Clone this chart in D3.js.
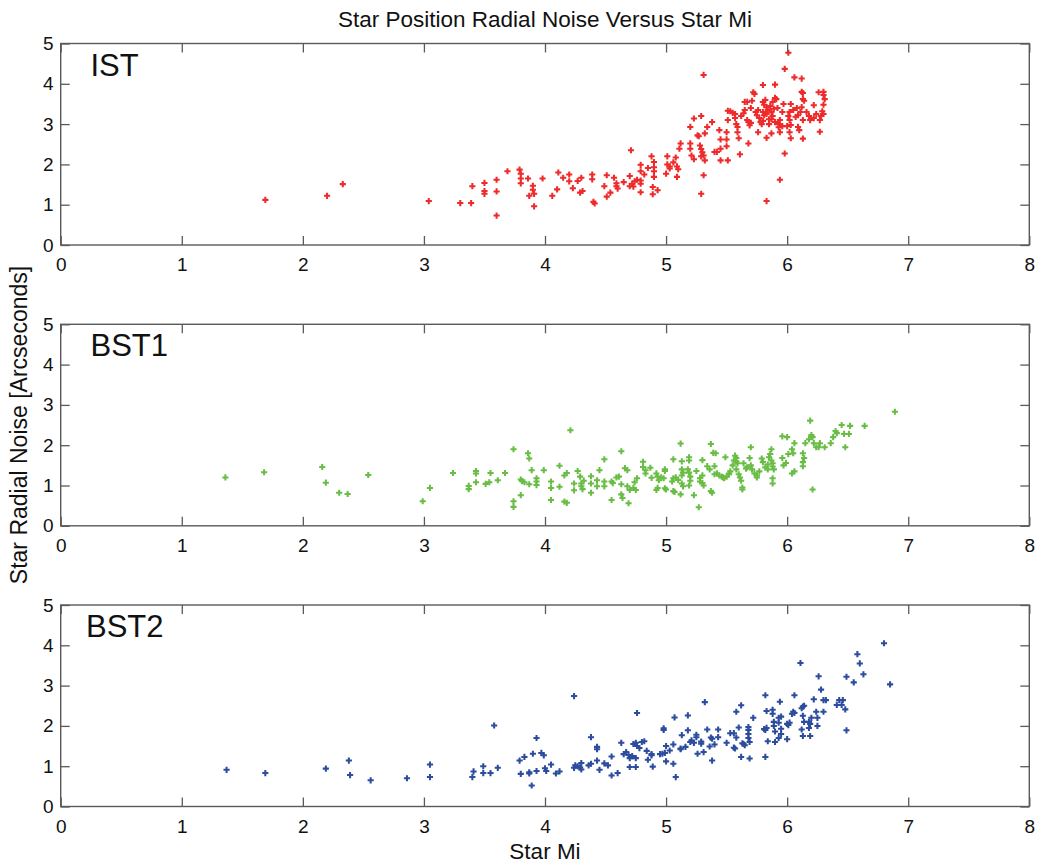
<!DOCTYPE html>
<html>
<head>
<meta charset="utf-8">
<script src="https://cdn.jsdelivr.net/npm/d3@7"></script>
<style>
  html, body { margin: 0; padding: 0; background: #fff; }
  svg { display: block; }
  text { font-family: "Liberation Sans", Arial, Helvetica, sans-serif; fill: #111; }
</style>
</head>
<body>
<svg id="chart" width="1039" height="865"></svg>
<script>
// Star magnitude (Mi) and radial noise [arcsec] for each tracker
const istMi = [1.69,2.20,2.33,3.04,3.30,3.39,3.40,3.50,3.50,3.50,3.60,3.60,3.60,3.69,3.79,3.80,3.80,3.80,3.86,3.90,3.90,3.91,3.87,3.91,3.98,4.06,4.11,4.10,4.15,4.20,4.20,4.23,4.27,4.30,4.29,4.31,4.39,4.39,4.40,4.41,4.51,4.49,4.51,4.54,4.57,4.59,4.59,4.60,4.65,4.70,4.70,4.72,4.74,4.76,4.73,4.71,4.79,4.79,4.79,4.79,4.79,4.82,4.85,4.88,4.90,4.90,4.90,4.90,4.89,4.89,4.93,5.00,5.01,5.01,5.03,5.03,5.06,5.08,5.09,5.10,5.09,5.11,5.12,5.20,5.20,5.20,5.21,5.23,5.23,5.26,5.27,5.28,5.29,5.30,5.31,5.29,5.29,5.31,5.32,5.34,5.31,5.29,5.32,5.38,5.40,5.42,5.44,5.45,5.45,5.45,5.51,5.51,5.50,5.50,5.50,5.51,5.53,5.55,5.57,5.57,5.58,5.59,5.59,5.60,5.61,5.65,5.67,5.65,5.67,5.68,5.69,5.70,5.68,5.72,5.73,5.71,5.75,5.77,5.78,5.79,5.80,5.76,5.80,5.80,5.82,5.81,5.83,5.80,5.81,5.83,5.85,5.85,5.83,5.83,5.87,5.87,5.89,5.88,5.90,5.91,5.88,5.87,5.90,5.93,5.94,5.90,5.93,5.96,6.00,5.94,5.98,5.94,5.98,6.01,6.02,6.01,6.03,6.02,6.03,6.02,6.03,6.06,6.12,6.10,6.09,6.13,6.07,6.09,6.11,6.13,6.12,6.13,6.14,6.12,6.13,6.18,6.19,6.22,6.27,6.27,6.26,6.30,6.30,6.31,6.30,6.29,6.30,6.28,5.62,5.64,5.74,5.76,5.86,5.92,5.96,6.05,6.08,6.16,6.24,6.22,5.84,5.70,5.97];
const istNoise = [1.12,1.22,1.51,1.09,1.04,1.04,1.46,1.54,1.34,1.27,1.62,1.33,0.73,1.83,1.87,1.77,1.65,1.53,1.65,1.47,1.37,1.27,1.22,0.96,1.65,1.22,1.80,1.38,1.67,1.75,1.58,1.41,1.59,1.67,1.30,1.34,1.75,1.63,1.07,1.03,1.73,1.46,1.20,1.30,1.67,1.53,1.46,1.40,1.56,1.71,1.46,1.52,1.58,1.62,1.45,2.35,1.99,1.83,1.52,1.60,1.31,1.75,1.91,2.20,2.06,1.93,1.83,1.69,1.44,1.26,1.36,1.77,2.20,2.00,1.95,1.90,2.05,2.17,1.95,1.88,1.69,2.39,2.52,2.93,2.52,2.39,2.22,3.14,2.13,2.72,2.70,2.47,2.38,2.30,2.22,2.20,3.20,4.22,2.77,2.93,1.73,1.27,2.10,3.05,2.31,2.31,2.85,2.62,2.39,2.10,3.33,3.10,2.80,2.62,2.45,2.10,3.32,3.28,3.25,3.15,3.00,2.93,2.80,2.65,2.25,3.55,3.55,3.35,3.10,3.05,2.97,3.03,2.52,3.79,3.75,3.58,3.22,3.15,3.05,3.00,3.08,2.80,3.97,3.55,3.60,3.48,3.42,3.30,3.22,3.25,3.12,3.00,2.66,1.09,2.77,3.30,3.38,3.55,3.65,3.62,3.20,3.12,3.05,3.00,3.10,3.98,2.92,2.95,2.95,2.80,2.27,1.62,4.37,4.77,3.30,3.20,3.50,3.10,2.98,2.80,2.65,4.16,4.13,2.85,2.93,2.64,3.18,3.22,3.30,3.10,3.42,3.62,3.58,3.80,3.77,3.20,3.10,3.47,3.10,2.81,3.79,3.80,3.72,3.62,3.48,3.32,3.25,3.20,3.20,3.27,3.30,3.35,3.45,3.40,3.30,3.35,3.40,3.30,3.25,3.15,3.35,3.40,3.50];

const bst1Mi = [1.36,1.68,2.16,2.19,2.30,2.37,2.54,2.99,3.05,3.24,3.37,3.37,3.43,3.43,3.43,3.51,3.54,3.55,3.61,3.67,3.74,3.74,3.74,3.80,3.81,3.83,3.80,3.86,3.87,3.89,3.87,3.93,3.93,3.93,3.99,4.05,4.05,4.05,4.12,4.12,4.16,4.18,4.16,4.18,4.21,4.24,4.24,4.27,4.29,4.30,4.30,4.31,4.32,4.38,4.38,4.38,4.43,4.43,4.45,4.49,4.49,4.49,4.55,4.56,4.55,4.59,4.61,4.63,4.63,4.63,4.64,4.66,4.68,4.68,4.70,4.69,4.73,4.74,4.76,4.75,4.81,4.81,4.83,4.83,4.87,4.88,4.92,4.93,4.94,4.93,4.92,4.96,4.98,4.99,4.99,4.99,5.00,5.05,5.06,5.08,5.10,5.06,5.06,5.07,5.12,5.13,5.13,5.13,5.14,5.13,5.14,5.12,5.19,5.19,5.18,5.19,5.20,5.20,5.19,5.23,5.27,5.25,5.28,5.28,5.30,5.31,5.30,5.30,5.34,5.36,5.37,5.38,5.37,5.39,5.41,5.40,5.40,5.42,5.44,5.46,5.47,5.48,5.50,5.52,5.53,5.52,5.49,5.55,5.56,5.57,5.58,5.58,5.59,5.58,5.60,5.61,5.62,5.63,5.63,5.64,5.66,5.67,5.70,5.69,5.70,5.71,5.73,5.75,5.75,5.77,5.79,5.80,5.82,5.84,5.84,5.86,5.85,5.87,5.88,5.88,5.87,5.89,5.88,5.88,5.96,6.00,5.96,5.97,5.99,6.01,6.04,6.06,6.05,6.04,6.06,6.13,6.14,6.13,6.13,6.15,6.18,6.20,6.19,6.21,6.22,6.24,6.26,6.27,6.21,6.31,6.36,6.38,6.40,6.41,6.45,6.47,6.48,6.51,6.52,6.64,6.89];
const bst1Noise = [1.20,1.33,1.46,1.07,0.82,0.79,1.26,0.61,0.94,1.31,0.99,0.91,1.36,1.30,1.08,1.04,1.08,1.31,1.13,1.31,1.90,0.61,0.47,1.15,1.11,1.08,0.76,1.80,1.67,1.38,1.03,1.18,1.10,1.01,1.38,1.10,0.94,0.64,1.49,0.97,1.25,1.31,0.60,0.57,2.37,1.05,0.88,1.36,1.22,1.05,0.98,0.91,1.12,1.23,1.05,0.82,1.13,0.98,1.38,1.65,1.10,0.98,1.10,1.06,0.64,1.20,1.22,1.85,1.03,0.78,0.69,1.43,1.38,0.98,0.89,0.56,0.94,1.08,1.18,0.89,1.59,1.46,1.38,1.30,1.44,1.19,1.30,1.22,1.13,0.94,0.89,1.20,1.18,1.40,1.36,0.93,0.90,1.10,1.18,1.20,1.14,1.65,0.86,0.84,2.04,1.60,1.40,1.25,1.32,1.05,0.98,0.78,1.70,1.62,1.40,1.32,1.22,1.12,1.00,0.76,0.46,1.36,1.18,1.10,1.06,1.00,1.25,1.63,1.48,1.40,0.86,0.82,2.03,1.81,1.80,1.48,1.28,1.30,1.25,1.22,1.20,1.18,1.22,1.30,1.35,1.28,1.70,1.50,1.62,1.74,1.68,1.60,1.55,1.40,1.28,1.20,1.12,0.95,0.90,1.55,1.42,1.45,1.50,1.68,1.95,1.40,1.30,1.25,1.20,1.35,1.67,1.58,1.45,1.40,1.52,1.78,1.70,1.62,1.55,1.47,1.90,1.40,1.18,1.05,2.22,2.20,1.68,1.50,1.56,1.78,1.90,2.05,1.80,1.30,1.35,1.80,1.68,1.58,1.48,2.05,2.15,2.25,2.61,2.20,2.05,1.95,1.95,2.05,0.90,1.95,2.05,2.20,2.35,2.30,2.50,2.28,1.95,2.28,2.48,2.48,2.83];

const bst2Mi = [1.37,1.69,2.19,2.38,2.39,2.56,2.86,3.05,3.05,3.40,3.41,3.49,3.49,3.55,3.58,3.61,3.79,3.80,3.83,3.87,3.87,3.89,3.90,3.93,3.93,3.97,3.99,4.00,4.01,4.05,4.09,4.12,4.24,4.24,4.25,4.27,4.29,4.30,4.30,4.36,4.38,4.38,4.43,4.43,4.43,4.45,4.49,4.52,4.55,4.55,4.60,4.63,4.65,4.67,4.69,4.70,4.72,4.70,4.73,4.75,4.76,4.75,4.75,4.76,4.78,4.80,4.82,4.84,4.85,4.88,4.88,4.89,4.95,4.97,4.99,5.00,4.98,4.98,5.00,5.03,5.06,5.06,5.07,5.08,5.12,5.12,5.13,5.16,5.18,5.18,5.21,5.20,5.23,5.25,5.25,5.26,5.29,5.29,5.31,5.32,5.34,5.37,5.38,5.36,5.38,5.40,5.43,5.43,5.50,5.53,5.56,5.56,5.57,5.58,5.58,5.60,5.62,5.62,5.63,5.64,5.65,5.68,5.68,5.68,5.68,5.69,5.69,5.72,5.81,5.82,5.82,5.82,5.83,5.84,5.83,5.88,5.88,5.89,5.90,5.90,5.89,5.93,5.93,5.95,5.95,5.93,5.94,5.95,6.00,6.01,6.02,6.00,6.04,6.05,6.06,6.06,6.11,6.12,6.13,6.14,6.13,6.14,6.12,6.13,6.18,6.19,6.18,6.20,6.19,6.22,6.24,6.25,6.25,6.26,6.28,6.30,6.32,6.30,6.41,6.43,6.45,6.46,6.48,6.49,6.49,6.55,6.58,6.60,6.63,6.80,6.85];
const bst2Noise = [0.91,0.83,0.94,1.14,0.78,0.65,0.70,1.04,0.73,0.73,0.87,1.00,0.83,0.83,2.01,0.96,1.14,0.81,1.23,0.85,0.82,0.52,1.31,1.70,0.88,1.33,1.27,0.95,0.88,1.04,0.82,0.87,2.74,0.96,1.02,1.00,0.97,1.08,0.92,1.02,1.06,1.72,1.48,1.42,1.14,0.91,1.07,1.02,1.24,0.77,0.83,1.58,1.30,1.35,1.28,1.20,1.25,0.98,1.55,1.58,1.50,1.20,0.98,2.32,1.45,1.60,1.62,1.38,1.16,1.30,1.27,0.99,1.30,1.31,1.33,1.50,1.94,1.90,1.12,1.39,1.54,1.06,2.21,0.73,1.42,1.44,1.77,1.48,2.26,1.89,1.64,1.60,1.58,1.78,1.72,1.31,1.61,1.56,1.35,2.59,1.91,1.71,1.68,1.49,1.14,1.54,1.91,1.72,1.58,1.82,1.82,1.46,1.44,2.35,1.71,1.96,2.51,1.23,1.57,1.55,1.52,1.97,1.90,1.80,1.70,1.60,1.19,2.20,1.92,1.90,2.76,1.23,1.95,1.62,2.37,2.40,2.30,2.10,1.86,1.60,2.00,2.08,2.20,1.93,2.23,1.70,2.60,1.80,2.05,2.02,2.08,1.67,2.30,2.35,2.32,2.76,3.56,2.44,2.48,2.50,2.25,2.10,1.91,1.75,1.95,1.75,2.10,2.20,2.05,2.66,2.35,2.20,2.00,3.23,2.90,2.64,2.64,2.35,2.52,2.64,2.52,2.64,2.41,3.22,1.89,3.08,3.78,3.55,3.28,4.05,3.03];

const panelNames = ["IST", "BST1", "BST2"];
const panelColors = ["#ee2a2a", "#69bd45", "#2c4c9e"];
const xTicks = [0, 1, 2, 3, 4, 5, 6, 7, 8];
const yTicks = [0, 1, 2, 3, 4, 5];
const chartTitle = "Star Position Radial Noise Versus Star Mi";
const xLabel = "Star Mi";
const yLabel = "Star Radial Noise [Arcseconds]";

const series = [
  { mi: istMi, noise: istNoise },
  { mi: bst1Mi, noise: bst1Noise },
  { mi: bst2Mi, noise: bst2Noise }
];

const svg = d3.select("#chart");
const left = 60.7, right = 1029.3;
const panelTops = [43.5, 324.3, 605.0];
const panelH = 201.5;
const frameColor = "#5a5a5a";

const x = d3.scaleLinear().domain([0, 8]).range([left, right]);

svg.append("text")
  .attr("x", (left + right) / 2).attr("y", 27)
  .attr("text-anchor", "middle")
  .style("font-size", "22.5px")
  .text(chartTitle);

series.forEach((s, i) => {
  const top = panelTops[i];
  const y = d3.scaleLinear().domain([0, 5]).range([top + panelH, top]);
  const g = svg.append("g");

  // points
  const sym = d3.symbol().type(d3.symbolCross).size(21);
  g.append("g").selectAll("path")
    .data(d3.range(s.mi.length))
    .join("path")
    .attr("d", sym)
    .attr("transform", k => `translate(${x(s.mi[k])},${y(s.noise[k])})`)
    .attr("fill", panelColors[i]);

  // axes (ticks point inward, box style)
  const styleAxis = sel => {
    sel.select(".domain").remove();
    sel.selectAll(".tick line").attr("stroke", frameColor).attr("stroke-width", 1.3);
    sel.selectAll("text").style("font-size", "19px").attr("fill", "#111")
      .style("font-family", '"Liberation Sans", Arial, Helvetica, sans-serif');
  };
  g.append("g").attr("transform", `translate(0,${top + panelH})`)
    .call(d3.axisBottom(x).tickValues(xTicks).tickFormat(d3.format("d")).tickSize(-9).tickPadding(13))
    .call(styleAxis);
  g.append("g").attr("transform", `translate(0,${top})`)
    .call(d3.axisTop(x).tickValues(xTicks).tickFormat("").tickSize(-9))
    .call(styleAxis);
  g.append("g").attr("transform", `translate(${left},0)`)
    .call(d3.axisLeft(y).tickValues(yTicks).tickFormat(d3.format("d")).tickSize(-9).tickPadding(7))
    .call(styleAxis);
  g.append("g").attr("transform", `translate(${right},0)`)
    .call(d3.axisRight(y).tickValues(yTicks).tickFormat("").tickSize(-9))
    .call(styleAxis);

  // frame
  g.append("rect")
    .attr("x", left).attr("y", top)
    .attr("width", right - left).attr("height", panelH)
    .attr("fill", "none").attr("stroke", frameColor).attr("stroke-width", 1.4);

  // panel name
  g.append("text")
    .attr("x", i === 2 ? 86 : 90.5).attr("y", top + 32.5 + (i === 0 ? 0 : -1))
    .style("font-size", "31px")
    .text(panelNames[i]);
});

svg.append("text")
  .attr("transform", `translate(27,${(panelTops[0] + panelTops[2] + panelH) / 2}) rotate(-90)`)
  .attr("text-anchor", "middle")
  .style("font-size", "23px")
  .text(yLabel);

svg.append("text")
  .attr("x", (left + right) / 2).attr("y", 859)
  .attr("text-anchor", "middle")
  .style("font-size", "22.5px")
  .text(xLabel);
</script>
</body>
</html>
